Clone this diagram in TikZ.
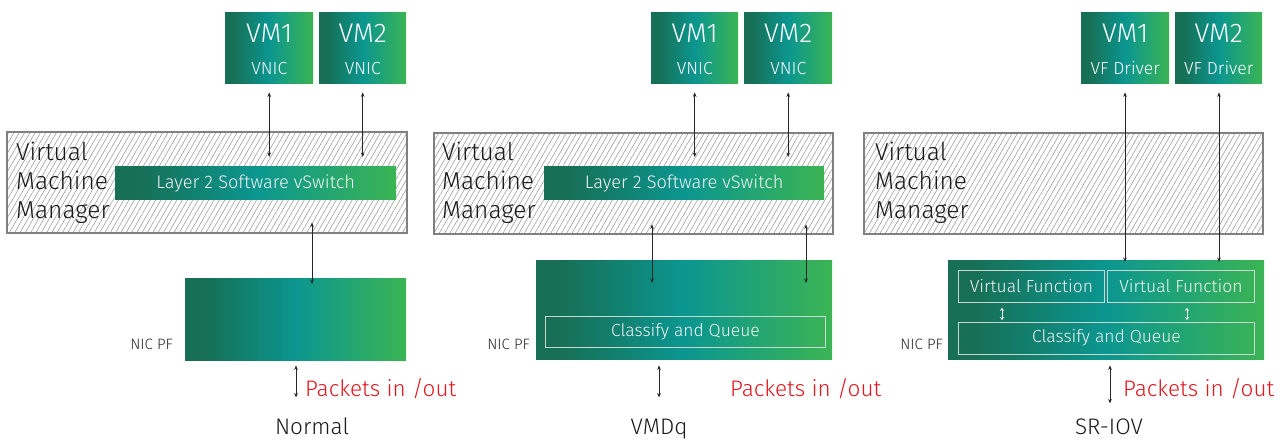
\documentclass[tikz,border=0pt]{standalone}
\usepackage{fontspec}
\setmainfont{Fira Sans Light}
\usetikzlibrary{arrows.meta,patterns.meta}
\definecolor{gA}{HTML}{176F55}
\definecolor{gB}{HTML}{0B9690}
\definecolor{gC}{HTML}{3BB454}
\definecolor{pktred}{HTML}{E3161E}
\definecolor{framegray}{HTML}{808080}
\definecolor{hatchgray}{HTML}{9A9A9A}
\definecolor{inbox}{HTML}{C8D8D0}
\pgfdeclarehorizontalshading{nicgrad}{100bp}{color(0bp)=(gA); color(25bp)=(gA); color(29bp)=(gA); color(50bp)=(gB); color(75bp)=(gC); color(100bp)=(gC)}
\tikzset{
  greenbox/.style={shade, shading=nicgrad, inner sep=0pt, anchor=north west},
  vmmbox/.style={draw=framegray, line width=2.4pt, inner sep=0pt, anchor=north west,
    pattern={Lines[angle=60,distance=4.6pt,line width=0.55pt]}, pattern color=hatchgray},
  innerbox/.style={draw=inbox, line width=0.9pt, inner sep=0pt, anchor=north west},
  vmtitle/.style={font=\fontsize{27}{30}\selectfont, text=white, inner sep=0pt, anchor=base},
  vmsub/.style={font=\fontsize{17.5}{20}\selectfont, text=white, inner sep=0pt, anchor=base},
  whitetxt/.style={font=\fontsize{17.5}{21}\selectfont, text=white!92!gray, inner sep=0pt, anchor=base},
  swtxt/.style={font=\fontsize{18.2}{21}\selectfont, text=white!92!gray, inner sep=0pt, anchor=base},
  vmmtxt/.style={font=\fontsize{24.5}{29}\selectfont, text=black!90, inner sep=0pt, anchor=north west, align=left},
  nicpf/.style={font=\fontsize{15}{17}\selectfont, text=black!85, inner sep=0pt, anchor=base east},
  pkt/.style={font=\fontsize{22.5}{25}\selectfont, text=pktred, inner sep=0pt, anchor=base west},
  caption/.style={font=\fontsize{22.5}{25}\selectfont, text=black!90, inner sep=0pt, anchor=base},
  biarrow/.style={line width=0.7pt, black!85, {Stealth[length=4.5pt,width=3.6pt]}-{Stealth[length=4.5pt,width=3.6pt]}},
  smallarrow/.style={line width=1pt, white!85!gray, {Stealth[length=3pt,width=4.5pt]}-{Stealth[length=3pt,width=4.5pt]}},
}
\begin{document}
\begin{tikzpicture}[x=1pt,y=1pt]
\useasboundingbox[fill=white] (0,0) rectangle (1280,-442);

% ================= Panel 1: Normal =================
\node[greenbox, minimum width=88pt, minimum height=71pt] (vm1a) at (225,-12) {};
\node[greenbox, minimum width=87pt, minimum height=71pt] (vm2a) at (319,-12) {};
\node[vmtitle] (vm1aT) at ([yshift=-30.3]vm1a.north) {VM1};
\node[vmsub]   (vm1aS) at ([yshift=-62]vm1a.north) {VNIC};
\node[vmtitle] (vm2aT) at ([yshift=-30.3]vm2a.north) {VM2};
\node[vmsub]   (vm2aS) at ([yshift=-62]vm2a.north) {VNIC};

\node[vmmbox, minimum width=400pt, minimum height=101pt] (vmm1) at (7,-132) {};
\node[vmmtxt] (vmm1T) at (16,-142) {Virtual\\Machine\\Manager};
\node[greenbox, minimum width=281pt, minimum height=33pt] (sw1) at (115,-166) {};
\node[swtxt] (sw1T) at ([yshift=-22]sw1.north) {Layer 2 Software vSwitch};

\node[greenbox, minimum width=221pt, minimum height=82pt] (nic1) at (185,-278) {};
\node[nicpf] (nic1L) at (173,-349.3) {NIC PF};

\coordinate (a1) at (312,0);
\coordinate (p1) at (296,0);
\draw[biarrow] ([yshift=-9]vm1a.south) -- ([yshift=9]vm1a.south |- sw1.north);
\draw[biarrow] ([yshift=-9]vm2a.south) -- ([yshift=9]vm2a.south |- sw1.north);
\draw[biarrow] ([yshift=11]vmm1.south -| a1) -- ([yshift=-6]nic1.north -| a1);
\node[pkt] (pkt1) at (305,-396.7) {Packets in /out};
\draw[biarrow] ([yshift=-5]nic1.south -| p1) -- ([yshift=-37]nic1.south -| p1);
\node[caption] (cap1) at (312,-434) {Normal};

% ================= Panel 2: VMDq =================
\node[greenbox, minimum width=87pt, minimum height=71pt] (vm1b) at (651,-12) {};
\node[greenbox, minimum width=88pt, minimum height=71pt] (vm2b) at (744,-12) {};
\node[vmtitle] (vm1bT) at ([yshift=-30.3]vm1b.north) {VM1};
\node[vmsub]   (vm1bS) at ([yshift=-62]vm1b.north) {VNIC};
\node[vmtitle] (vm2bT) at ([yshift=-30.3]vm2b.north) {VM2};
\node[vmsub]   (vm2bS) at ([yshift=-62]vm2b.north) {VNIC};

\node[vmmbox, minimum width=399pt, minimum height=101pt] (vmm2) at (433,-132) {};
\node[vmmtxt] (vmm2T) at (442,-142) {Virtual\\Machine\\Manager};
\node[greenbox, minimum width=280pt, minimum height=33pt] (sw2) at (544,-166) {};
\node[swtxt] (sw2T) at ([yshift=-22]sw2.north) {Layer 2 Software vSwitch};

\node[greenbox, minimum width=296pt, minimum height=99pt] (nic2) at (536,-260) {};
\node[innerbox, minimum width=280pt, minimum height=31pt] (cq2) at (545,-316) {};
\node[whitetxt] (cq2T) at ([yshift=-20.7]cq2.north) {Classify and Queue};
\node[nicpf] (nic2L) at (530,-349.3) {NIC PF};

\coordinate (a2) at (652,0);
\coordinate (b2) at (806,0);
\coordinate (p2) at (659,0);
\draw[biarrow] ([yshift=-9]vm1b.south) -- ([yshift=9]vm1b.south |- sw2.north);
\draw[biarrow] ([yshift=-9]vm2b.south) -- ([yshift=9]vm2b.south |- sw2.north);
\draw[biarrow] ([yshift=11]vmm2.south -| a2) -- ([yshift=-23]nic2.north -| a2);
\draw[biarrow] ([yshift=11]vmm2.south -| b2) -- ([yshift=-23]nic2.north -| b2);
\draw[biarrow] ([yshift=-6]nic2.south -| p2) -- ([yshift=-38]nic2.south -| p2);
\node[pkt] (pkt2) at (730,-396.7) {Packets in /out};
\node[caption] (cap2) at (659,-434) {VMDq};

% ================= Panel 3: SR-IOV =================
\node[greenbox, minimum width=88pt, minimum height=71pt] (vm1c) at (1081,-12) {};
\node[greenbox, minimum width=87pt, minimum height=71pt] (vm2c) at (1175,-12) {};
\node[vmtitle] (vm1cT) at ([yshift=-30.3]vm1c.north) {VM1};
\node[vmsub]   (vm1cS) at ([yshift=-62]vm1c.north) {VF Driver};
\node[vmtitle] (vm2cT) at ([yshift=-30.3]vm2c.north) {VM2};
\node[vmsub]   (vm2cS) at ([yshift=-62]vm2c.north) {VF Driver};

\node[vmmbox, minimum width=399pt, minimum height=101pt] (vmm3) at (863,-132) {};
\node[vmmtxt] (vmm3T) at (875,-142) {Virtual\\Machine\\Manager};

\node[greenbox, minimum width=316pt, minimum height=99pt] (nic3) at (948,-260) {};
\node[innerbox, minimum width=146pt, minimum height=32pt] (vf1) at (958,-270) {};
\node[innerbox, minimum width=147pt, minimum height=32pt] (vf2) at (1107,-270) {};
\node[whitetxt] (vf1T) at ([yshift=-22]vf1.north) {Virtual Function};
\node[whitetxt] (vf2T) at ([yshift=-22]vf2.north) {Virtual Function};
\node[innerbox, minimum width=296pt, minimum height=32pt] (cq3) at (958,-322) {};
\node[whitetxt] (cq3T) at ([yshift=-20.5]cq3.north) {Classify and Queue};
\node[nicpf] (nic3L) at (943,-349.3) {NIC PF};

\coordinate (a3) at (1125,0);
\coordinate (b3) at (1219,0);
\coordinate (s3) at (1002,0);
\coordinate (t3) at (1187,0);
\coordinate (p3) at (1110,0);
\draw[biarrow] ([yshift=-9]vm1c.south -| a3) -- ([yshift=8]vf2.north -| a3);
\draw[biarrow] ([yshift=-9]vm2c.south -| b3) -- ([yshift=8]vf2.north -| b3);
\draw[smallarrow] ([yshift=-5]vf1.south -| s3) -- ([yshift=2]cq3.north -| s3);
\draw[smallarrow] ([yshift=-5]vf2.south -| t3) -- ([yshift=2]cq3.north -| t3);
\draw[biarrow] ([yshift=-6]nic3.south -| p3) -- ([yshift=-44]nic3.south -| p3);
\node[pkt] (pkt3) at (1123,-396.7) {Packets in /out};
\node[caption] (cap3) at (1109,-434) {SR-IOV};
\end{tikzpicture}
\end{document}
